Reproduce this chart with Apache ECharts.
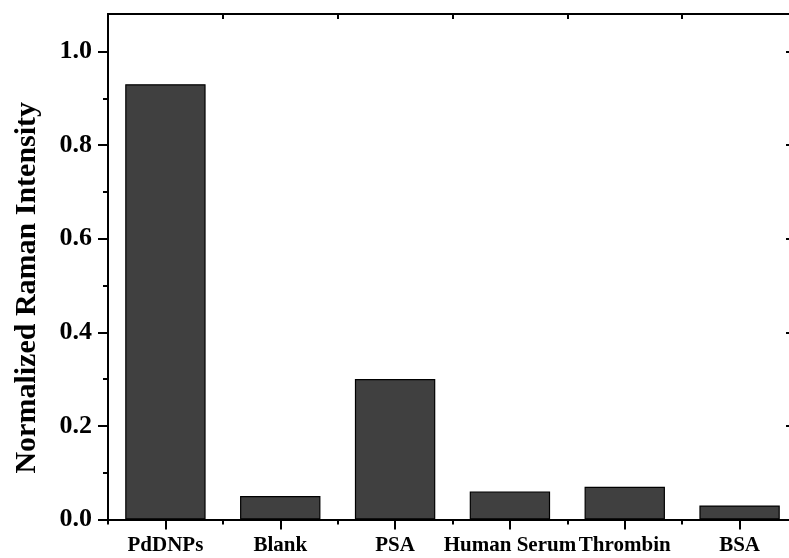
<!DOCTYPE html>
<html>
<head>
<meta charset="utf-8">
<script src="https://cdn.jsdelivr.net/npm/echarts@6/dist/echarts.min.js"></script>
<style>html,body{margin:0;padding:0;background:#fff;}#c{width:789px;height:558px;}</style>
</head>
<body>
<div id="c"></div>
<script>
var categories = ['PdDNPs', 'Blank', 'PSA', 'Human Serum', 'Thrombin', 'BSA'];
var values = [0.93, 0.05, 0.30, 0.06, 0.07, 0.03];
var yMajorTicks = [0, 0.2, 0.4, 0.6, 0.8, 1.0];
var yMinorTicks = [0.1, 0.3, 0.5, 0.7, 0.9];
var yTitle = 'Normalized Raman Intensity';

var FONT = '"Liberation Serif", "Times New Roman", serif';
var lineStyle = {color: '#000', width: 2};

var chart = echarts.init(document.getElementById('c'), null, {renderer: 'canvas'});
var yBase = {type: 'value', min: 0, max: 1.08, splitLine: {show: false}};
chart.setOption({
  animation: false,
  backgroundColor: '#fff',
  grid: {left: 108, top: 14, width: 689, height: 505.5, containLabel: false, outerBoundsMode: 'none'},
  xAxis: [
    {type: 'category', data: categories, position: 'bottom', boundaryGap: true,
     axisLine: {lineStyle: lineStyle},
     axisTick: {show: true, alignWithLabel: true, inside: false, length: 10, lineStyle: lineStyle},
     axisLabel: {margin: 16, color: '#000', fontFamily: FONT, fontWeight: 'bold', fontSize: 21, interval: 0},
     splitLine: {show: false}},
    {type: 'category', data: categories, position: 'bottom', boundaryGap: true,
     axisLine: {lineStyle: lineStyle},
     axisTick: {show: true, alignWithLabel: false, inside: false, length: 5, lineStyle: lineStyle},
     axisLabel: {show: false}, splitLine: {show: false}},
    {type: 'category', data: categories, position: 'top', boundaryGap: true,
     axisLine: {lineStyle: lineStyle},
     axisTick: {show: true, alignWithLabel: true, inside: true, length: 10, lineStyle: lineStyle},
     axisLabel: {show: false}, splitLine: {show: false}},
    {type: 'category', data: categories, position: 'top', boundaryGap: true,
     axisLine: {lineStyle: lineStyle},
     axisTick: {show: true, alignWithLabel: false, inside: true, length: 5, lineStyle: lineStyle},
     axisLabel: {show: false}, splitLine: {show: false}}
  ],
  yAxis: [
    Object.assign({}, yBase, {position: 'left',
      name: yTitle, nameLocation: 'middle', nameGap: 66,
      nameTextStyle: {color: '#000', fontFamily: FONT, fontWeight: 'bold', fontSize: 30, padding: [0, 42, 0, 0]},
      axisLine: {show: true, lineStyle: lineStyle},
      axisTick: {show: true, inside: false, length: 10, lineStyle: lineStyle, customValues: yMajorTicks},
      axisLabel: {show: true, margin: 16, color: '#000', fontFamily: FONT, fontWeight: 'bold', fontSize: 26,
        customValues: yMajorTicks, formatter: function (v) { return v.toFixed(1); }}}),
    Object.assign({}, yBase, {position: 'left',
      axisLine: {show: true, lineStyle: lineStyle},
      axisTick: {show: true, inside: false, length: 5, lineStyle: lineStyle, customValues: yMinorTicks},
      axisLabel: {show: false}}),
    Object.assign({}, yBase, {position: 'right',
      axisLine: {show: true, lineStyle: lineStyle},
      axisTick: {show: true, inside: true, length: 11, lineStyle: lineStyle, customValues: yMajorTicks},
      axisLabel: {show: false}})
  ],
  series: [{
    type: 'bar', xAxisIndex: 0, yAxisIndex: 0,
    data: values, barWidth: '70%',
    itemStyle: {color: '#404040', borderColor: '#000', borderWidth: 1.2}
  }]
});
</script>
</body>
</html>
